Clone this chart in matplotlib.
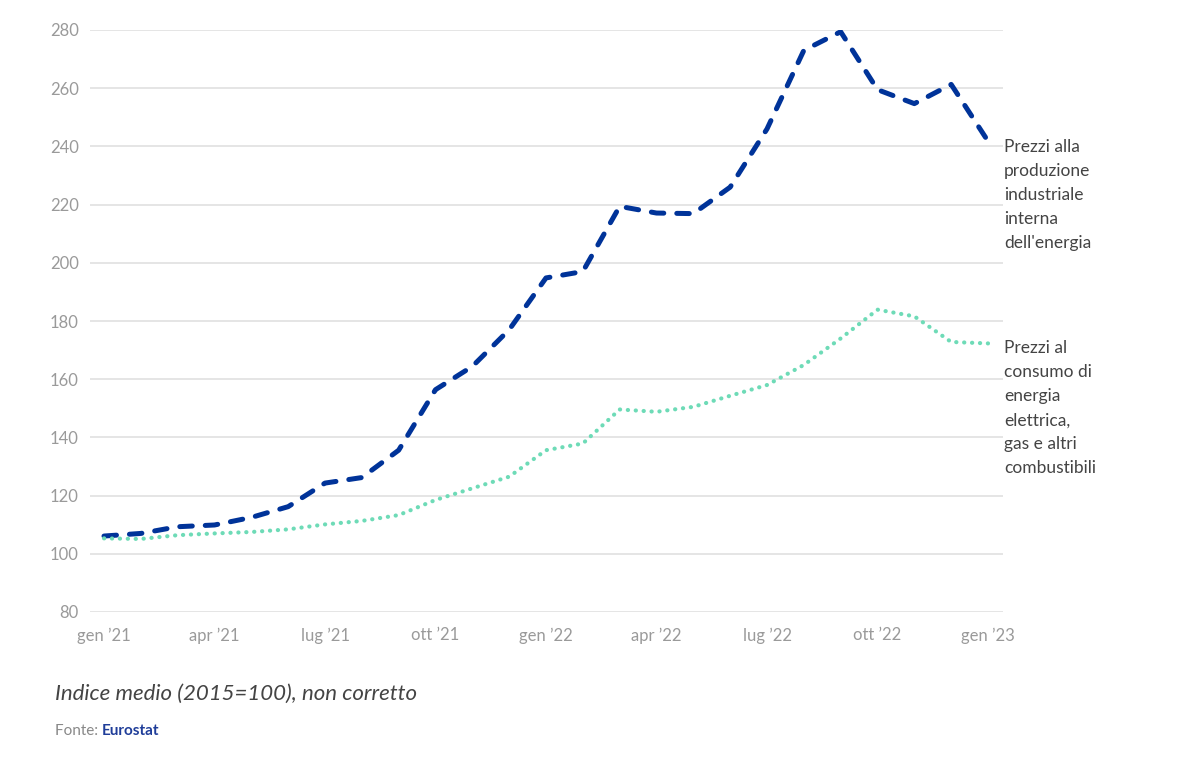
import matplotlib
matplotlib.use("Agg")
import matplotlib.pyplot as plt
import numpy as np

# monthly values, gen '21 -> gen '23
months = ["gen '21", "feb '21", "mar '21", "apr '21", "mag '21", "giu '21",
          "lug '21", "ago '21", "set '21", "ott '21", "nov '21", "dic '21",
          "gen '22", "feb '22", "mar '22", "apr '22", "mag '22", "giu '22",
          "lug '22", "ago '22", "set '22", "ott '22", "nov '22", "dic '22",
          "gen '23"]
produzione = [106.1, 107.0, 109.3, 109.9, 112.5, 116.2, 124.3, 126.2, 135.6,
              156.4, 164.4, 177.0, 194.8, 197.0, 219.4, 217.1, 216.9, 226.0,
              246.0, 273.0, 279.4, 259.5, 254.7, 261.3, 241.8]
consumo = [105.3, 105.1, 106.4, 107.0, 107.5, 108.4, 110.1, 111.3, 113.3,
           118.5, 122.5, 126.5, 135.6, 137.9, 149.6, 148.8, 150.5, 154.3,
           158.0, 164.9, 174.0, 183.9, 181.6, 172.8, 172.3]
tick_idx = [0, 3, 6, 9, 12, 15, 18, 21, 24]
tick_labels = ["gen \u201921", "apr \u201921", "lug \u201921", "ott \u201921",
               "gen \u201922", "apr \u201922", "lug \u201922", "ott \u201922",
               "gen \u201923"]
y_ticks = [80, 100, 120, 140, 160, 180, 200, 220, 240, 260, 280]

label_prod = "Prezzi alla\nproduzione\nindustriale\ninterna\ndell'energia"
label_cons = "Prezzi al\nconsumo di\nenergia\nelettrica,\ngas e altri\ncombustibili"

BLUE = "#003399"
GREEN = "#6edbb7"
TEXT = "#444444"
TICK = "#9a9a9a"
GRID = "#e3e3e3"

plt.rcParams["font.family"] = ["Lato", "DejaVu Sans"]

W, H = 1187, 770
fig = plt.figure(figsize=(W / 100, H / 100), dpi=100)
ax = fig.add_axes([90 / W, 1 - 612 / H, (1003 - 90) / W, (612 - 30) / H])

x = np.arange(len(months))
ax.plot(x, produzione, color=BLUE, lw=3.6, linestyle=(0, (2.5, 2.6)),
        dash_capstyle="round", zorder=3)
ax.plot(x, consumo, color=GREEN, lw=3.0, linestyle=(0, (0.05, 1.85)),
        dash_capstyle="round", zorder=3)

step = (988 - 104) / 24
ax.set_xlim(-(104 - 90) / step, 24 + (1003 - 988) / step)
ax.set_ylim(80, 280)
ax.set_yticks(y_ticks)
ax.set_xticks(tick_idx)
ax.set_xticklabels(tick_labels)
ax.grid(axis="y", color=GRID, lw=1.3)
ax.grid(axis="x", visible=False)
ax.set_axisbelow(True)
for s in ax.spines.values():
    s.set_visible(False)
ax.tick_params(axis="both", length=0, labelsize=12, labelcolor=TICK)
ax.tick_params(axis="y", pad=8)
ax.tick_params(axis="x", pad=11)

fig.text(1004 / W, 1 - 139 / H, label_prod, ha="left", va="top",
         fontsize=12.5, color=TEXT, linespacing=1.62)
fig.text(1004 / W, 1 - 340 / H, label_cons, ha="left", va="top",
         fontsize=12.5, color=TEXT, linespacing=1.62)

fig.text(55 / W, 1 - 694 / H, "Indice medio (2015=100), non corretto",
         ha="left", va="center", fontsize=16, style="italic", color=TEXT)
t = fig.text(55 / W, 1 - 731 / H, "Fonte: ", ha="left", va="center",
             fontsize=11, color="#888888")
fig.canvas.draw()
bb = t.get_window_extent()
fig.text(bb.x1 / W, 1 - 731 / H, "Eurostat", ha="left", va="center",
         fontsize=11, color="#1f3d99", fontweight="bold")

fig.savefig("out.png", dpi=100)
